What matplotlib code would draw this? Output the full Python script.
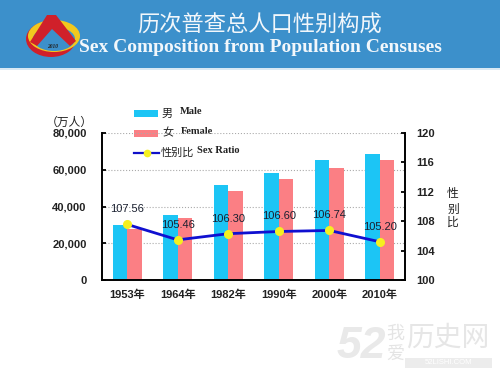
import matplotlib
matplotlib.use('Agg')
import matplotlib.pyplot as plt
from matplotlib.patches import Rectangle, Ellipse, Polygon

anos = ['1953年', '1964年', '1982年', '1990年', '2000年', '2010年']
homens = [30000, 35600, 51900, 58500, 65400, 68700]
mulheres = [27800, 33800, 48600, 54900, 61200, 65300]
razao = [107.56, 105.46, 106.30, 106.60, 106.74, 105.20]
rotulos = ['107.56', '105.46', '106.30', '106.60', '106.74', '105.20']
ticks_esq = [0, 20000, 40000, 60000, 80000]
ticks_dir = [100, 104, 108, 112, 116, 120]

CJK = ['Noto Sans CJK SC', 'DejaVu Sans']
BOLD = ['Liberation Sans', 'Noto Sans CJK SC']
TXT = '#222222'
AZUL = '#3c90cb'
W, H = 500, 375


def px(x, y):
    return x / W, 1 - y / H


fig = plt.figure(figsize=(5, 3.75), dpi=100)

# fundo em pixels para cabecalho, logo, legenda e marca d'agua
bg = fig.add_axes([0, 0, 1, 1])
bg.set_xlim(0, W)
bg.set_ylim(H, 0)
bg.axis('off')
bg.add_patch(Rectangle((0, 0), W, 68, color=AZUL, lw=0))
bg.add_patch(Rectangle((0, 68), W, 2, color='#d9e9f4', lw=0))

# logo
bg.add_patch(Ellipse((51, 39), 50, 36, color='#d0202a', lw=0))
bg.add_patch(Ellipse((54, 36), 52, 32, color='#f2c81e', lw=0))
bg.add_patch(Ellipse((54, 39), 42, 24, color=AZUL, lw=0))
bg.add_patch(Polygon([(47, 15), (56, 15), (76, 41), (70, 46), (52, 29), (37, 46), (30, 42)],
                     color='#d0202a', lw=0))
bg.text(53, 46, '2010', color='#222222', fontsize=4, fontweight='bold', style='italic',
        family='Liberation Serif', ha='center', va='center')

bg.text(260, 25, '历次普查总人口性别构成', color='#f2f7fb', fontsize=16,
        family=CJK, ha='center', va='center')
bg.text(260, 48, 'Sex Composition from Population Censuses', color='#f2f7fb', fontsize=14,
        family='Liberation Serif', fontweight='bold', ha='center', va='center')

# legenda
bg.add_patch(Rectangle((134, 110), 24, 7, color='#1cc5f5', lw=0))
bg.add_patch(Rectangle((134, 130), 24, 7, color='#fb7f84', lw=0))
bg.plot([134, 159], [152.5, 152.5], color='#1010c8', lw=1.6)
bg.plot([146.5], [152.5], 'o', color='#f5f020', markersize=4.5)
bg.text(162, 113.5, '男', fontsize=8, family=CJK, ha='left', va='center', color=TXT)
bg.text(162, 133.5, '女', fontsize=8, family=CJK, ha='left', va='center', color=TXT)
bg.text(161, 152.5, '性别比', fontsize=8, family=CJK, ha='left', va='center', color=TXT)
bg.text(180, 111, 'Male', fontsize=7.5, family='Liberation Serif', fontweight='bold', va='center', color=TXT)
bg.text(181, 131, 'Female', fontsize=7.5, family='Liberation Serif', fontweight='bold', va='center', color=TXT)
bg.text(197, 150.5, 'Sex Ratio', fontsize=7.5, family='Liberation Serif', fontweight='bold', va='center', color=TXT)
bg.text(69, 122, '（万人）', fontsize=8.5, family=CJK, ha='center', va='center', color=TXT)
for y, c in zip([194, 209, 222], '性别比'):
    bg.text(453, y, c, fontsize=8.5, family=CJK, ha='center', va='center', color=TXT)

# marca d'agua
bg.text(361, 347, '52', fontsize=32, color='#e9e9e9', family='Liberation Sans',
        fontweight='bold', ha='center', va='center', style='italic')
bg.text(395, 334, '我', fontsize=13, color='#e4e4e4', family=CJK, ha='center', va='center')
bg.text(395, 355, '爱', fontsize=13, color='#e4e4e4', family=CJK, ha='center', va='center')
bg.text(448, 338, '历史网', fontsize=20, color='#e6e6e6', family=CJK, ha='center', va='center')
bg.add_patch(Rectangle((405, 358), 87, 10, color='#ececec', lw=0))
bg.text(448, 363, '52LISHI.COM', fontsize=5.5, color='white', family='Liberation Sans',
        ha='center', va='center')

# grafico
x0, y0 = px(102, 280)
x1, y1 = px(405, 133)
ax = fig.add_axes([x0, y0, x1 - x0, y1 - y0])
ax.patch.set_alpha(0)
pos = list(range(len(anos)))
larg = 0.29
ax.bar([p - larg / 2 for p in pos], homens, larg, color='#1cc5f5', zorder=2)
ax.bar([p + larg / 2 for p in pos], mulheres, larg, color='#fb7f84', zorder=2)
ax.set_xlim(-0.5, 5.5)
ax.set_ylim(0, 80000)
ax.set_xticks(pos)
ax.set_xticklabels(anos, family=BOLD, fontweight='bold', fontsize=8, color=TXT)
ax.set_yticks(ticks_esq)
ax.set_yticklabels([f'{v:,}' for v in ticks_esq], family=BOLD, fontweight='bold', fontsize=8, color=TXT)
ax.grid(axis='y', color='#aaaaaa', ls=':', lw=0.8, zorder=0)
ax.tick_params(axis='x', length=0, pad=7)
ax.tick_params(axis='y', length=3, width=1.3, direction='in', pad=11)
ax.spines['top'].set_visible(False)
ax.spines['right'].set_visible(False)
for s in ['left', 'bottom']:
    ax.spines[s].set_linewidth(1.4)

ax2 = ax.twinx()
ax2.set_ylim(100, 120)
ax2.set_yticks(ticks_dir)
ax2.set_yticklabels([str(v) for v in ticks_dir], family=BOLD, fontweight='bold', fontsize=8, color=TXT)
ax2.tick_params(axis='y', length=3, width=1.3, direction='in', pad=8)
ax2.spines['top'].set_visible(False)
ax2.spines['left'].set_visible(False)
ax2.spines['bottom'].set_visible(False)
ax2.spines['right'].set_linewidth(1.4)
ax2.plot(pos, razao, color='#1010d0', lw=2, marker='o', markersize=5.5,
         markerfacecolor='#f5f020', markeredgecolor='#f5f020', zorder=5)
desloc = [2.15, 2.05, 2.05, 2.15, 2.05, 2.05]
for p, r, txt, d in zip(pos, razao, rotulos, desloc):
    ax2.text(p, r + d, txt, fontsize=8, family='Liberation Sans', color='#1a2030',
             ha='center', va='center', zorder=6)

fig.savefig('out.png', dpi=100)
